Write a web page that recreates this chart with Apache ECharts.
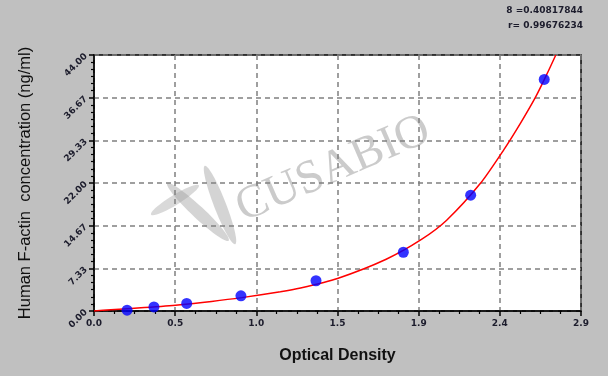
<!DOCTYPE html>
<html>
<head>
<meta charset="utf-8">
<script src="https://cdn.jsdelivr.net/npm/echarts@6/dist/echarts.min.js"></script>
<style>
html,body{margin:0;padding:0;background:#c0c0c0;}
#c{width:608px;height:376px;}
</style>
</head>
<body>
<div id="c"></div>
<script>
// Standards (OD, concentration)
var pointOD   = [0.197, 0.357, 0.552, 0.875, 1.322, 1.842, 2.243, 2.681];
var pointConc = [0.15, 0.7, 1.3, 2.6, 5.2, 10.1, 19.9, 39.8];
// Fitted curve
var curveOD   = [0, 0.1, 0.3, 0.5, 0.7, 0.88, 1.11, 1.23, 1.45, 1.74, 1.95, 2.10, 2.30, 2.44, 2.54, 2.63, 2.70, 2.75];
var curveConc = [0, 0.2, 0.6, 1.05, 1.65, 2.3, 3.3, 3.95, 5.6, 8.9, 12.3, 15.6, 21.9, 27.7, 32.3, 36.8, 40.9, 44];
// Tick labels
var xTickLabels = ['0.0', '0.5', '1.0', '1.5', '1.9', '2.4', '2.9'];
var yTickLabels = ['0.00', '7.33', '14.67', '22.00', '29.33', '36.67', '44.00'];
var xMax = 2.9, yMax = 44;
var statA = '8 =0.40817844';
var statR = 'r= 0.99676234';

var chart = echarts.init(document.getElementById('c'), null, {renderer: 'canvas'});
var xInt = xMax / 6, yInt = yMax / 6;
var tickFont = {fontFamily: 'DejaVu Sans', fontSize: 9, fontWeight: 'bold', color: '#1c1c2c'};
var dashed = {show: true, lineStyle: {color: '#808080', type: [5, 4], width: 1.5}};

chart.setOption({
  backgroundColor: '#c0c0c0',
  animation: false,
  grid: {left: 94, right: 27, top: 55, bottom: 65, show: true, backgroundColor: '#ffffff', borderColor: '#000', borderWidth: 1.5},
  xAxis: {
    type: 'value', min: 0, max: xMax, interval: xInt,
    name: 'Optical Density', nameLocation: 'middle', nameGap: 37,
    nameTextStyle: {fontFamily: 'Liberation Sans', fontSize: 16, fontWeight: 'bold', color: '#111'},
    axisLine: {lineStyle: {color: '#000', width: 1.5}},
    axisTick: {show: true, length: 5, lineStyle: {color: '#000', width: 1.5}},
    minorTick: {show: true, splitNumber: 4, length: 3, lineStyle: {color: '#000', width: 1.2}},
    axisLabel: Object.assign({margin: 8, formatter: function (v) { return xTickLabels[Math.round(v / xInt)]; }}, tickFont),
    splitLine: dashed
  },
  yAxis: {
    type: 'value', min: 0, max: yMax, interval: yInt,
    name: 'Human F-actin  concentration (ng/ml)', nameLocation: 'middle', nameGap: 60,
    nameTextStyle: {fontFamily: 'Liberation Sans', fontSize: 16.5, color: '#111'},
    axisLine: {lineStyle: {color: '#000', width: 1.5}},
    axisTick: {show: true, length: 5, lineStyle: {color: '#000', width: 1.5}},
    minorTick: {show: true, splitNumber: 6, length: 3, lineStyle: {color: '#000', width: 1.2}},
    axisLabel: Object.assign({margin: 8, rotate: 45, formatter: function (v) { return yTickLabels[Math.round(v / yInt)]; }}, tickFont),
    splitLine: dashed
  },
  graphic: [
    {type: 'text', right: 25, top: 6, style: {text: statA, fontFamily: 'DejaVu Sans', fontSize: 9, fontWeight: 'bold', fill: '#1c1c2c', textAlign: 'right'}},
    {type: 'text', right: 25, top: 21, style: {text: statR, fontFamily: 'DejaVu Sans', fontSize: 9, fontWeight: 'bold', fill: '#1c1c2c', textAlign: 'right'}},
    {type: 'text', x: 248, y: 232, rotation: 0.41, silent: true,
     style: {text: 'CUSABIO', fontFamily: 'Liberation Serif', fontSize: 47, fill: 'rgba(160,160,160,0.55)', textVerticalAlign: 'bottom'}},
    {type: 'ellipse', x: 198, y: 212, rotation: -0.75, silent: true,
     shape: {cx: 0, cy: 0, rx: 42, ry: 6}, style: {fill: 'rgba(160,160,160,0.45)'}},
    {type: 'ellipse', x: 220, y: 205, rotation: -1.2, silent: true,
     shape: {cx: 0, cy: 0, rx: 42, ry: 6}, style: {fill: 'rgba(160,160,160,0.45)'}},
    {type: 'ellipse', x: 175, y: 200, rotation: 0.55, silent: true,
     shape: {cx: 0, cy: 0, rx: 28, ry: 5}, style: {fill: 'rgba(160,160,160,0.4)'}}
  ],
  series: [
    {type: 'line', data: curveOD.map(function (x, i) { return [x, curveConc[i]]; }),
     smooth: 0.25, showSymbol: false, lineStyle: {color: '#ff0000', width: 1.5}, z: 3},
    {type: 'scatter', data: pointOD.map(function (x, i) { return [x, pointConc[i]]; }),
     symbol: 'circle', symbolSize: 11, itemStyle: {color: '#0000ff'}, z: 4}
  ]
});
</script>
</body>
</html>
